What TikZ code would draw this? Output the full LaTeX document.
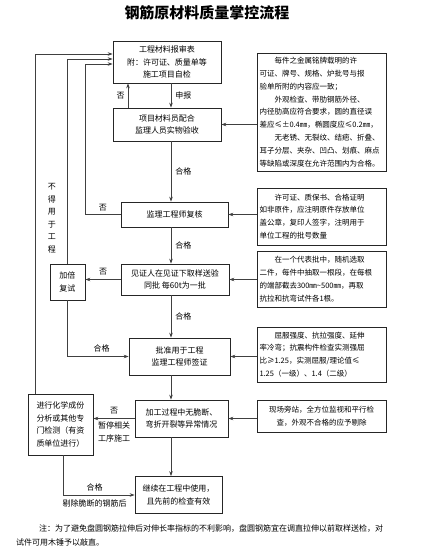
\documentclass[tikz,border=0pt]{standalone}
\usepackage{fontspec}
\setmainfont{Noto Sans CJK SC}
\usetikzlibrary{arrows.meta,calc}

\begin{document}
\begin{tikzpicture}[x=1pt,y=-1pt,
  stage/.style={rectangle,draw=black!85,line width=0.7pt,inner sep=1pt,align=center,
                font=\fontsize{8}{12.5}\selectfont},
  memo/.style={rectangle,draw=black!85,line width=0.7pt,inner sep=2pt,minimum width=129pt,
               text width=124pt,align=left,font=\fontsize{7.5}{12.8}\selectfont},
  lbl/.style={font=\fontsize{8}{12.5}\selectfont,inner sep=1pt},
  arr/.style={-{Stealth[length=5pt,width=3.5pt]},line width=0.6pt,draw=black!75}
]
  \useasboundingbox (0,0) rectangle (429,550);
  \node[lbl,font=\fontsize{15}{17}\selectfont\bfseries] (title) at (207,13) {钢筋原材料质量掌控流程};

  % main column
  \node[stage,minimum width=108pt,minimum height=42pt](apply)  at (167,62)     {工程材料报审表\\附：许可证、质量单等\\施工项目自检};
  \node[stage,minimum width=108pt,minimum height=33pt](accept) at (167,124.5)  {项目材料员配合\\监理人员实物验收};
  \node[stage,minimum width=107pt,minimum height=25pt](review) at (174.5,214.5){监理工程师复核};
  \node[stage,minimum width=108pt,minimum height=31pt](sample) at (175,279.5)  {见证人在见证下取样送验\\同批 每60t为一批};
  \node[stage,minimum width=101pt,minimum height=37pt](approve)at (179.5,356.5){批准用于工程\\监理工程师签证};
  \node[stage,minimum width=93pt,minimum height=37pt] (process)at (181.5,418.5){加工过程中无脆断、\\弯折开裂等异常情况};
  \node[stage,minimum width=87pt,minimum height=37pt] (useon)  at (178.5,495)  {继续在工程中使用，\\且先前的检查有效};

  % left side
  \node[stage,minimum width=35pt,minimum height=36pt](retest) at (67.5,282)  {加倍\\复试};
  \node[stage,minimum width=65pt,minimum height=61pt](chem)   at (60.5,424.5){进行化学成份\\分析或其他专\\门检测（有资\\质单位进行）};
  \node[lbl,align=center](ban) at (52,218) {不\\得\\用\\于\\工\\程};

  % right side notes
  \node[memo,minimum height=118pt](note1) at (321.5,112)
    {\hspace*{2em}每件之金属铭牌载明的许\\可证、牌号、规格、炉批号与报\\验单所附的内容应一致；\\
     \hspace*{2em}外观检查、带肋钢筋外径、\\内径肋高应符合要求，圆的直径误\\差应≤±0.4㎜，椭圆度应≤0.2㎜，\\
     \hspace*{2em}无老锈、无裂纹、结疤、折叠、\\耳子分层、夹杂、凹凸、划痕、麻点\\等缺陷或深度在允许范围内为合格。};
  \node[memo,minimum height=57pt](note2) at (321.5,216.5)
    {\hspace*{2em}许可证、质保书、合格证明\\如非原件，应注明原件存放单位\\盖公章，复印人签字，注明用于\\单位工程的批号数量};
  \node[memo,minimum height=56pt](note3) at (321.5,279)
    {\hspace*{2em}在一个代表批中，随机选取\\二件，每件中抽取一根段，在每根\\的端部截去300㎜\textasciitilde500㎜，再取\\抗拉和抗弯试件各1根。};
  \node[memo,minimum height=55pt](note4) at (321.5,354.5)
    {\hspace*{2em}屈服强度、抗拉强度、延伸\\率冷弯；抗震构件检查实测强屈\\比≥1.25，实测屈服/理论值≤\\1.25（一级）、1.4（二级）};
  \node[memo,minimum height=32pt,align=center](note5) at (321.5,416)
    {现场旁站，全方位监视和平行检\\查，外观不合格的应予剔除};

  \node[lbl,anchor=north west,align=left,font=\fontsize{8}{14}\selectfont](remark) at (15,523)
    {\hspace*{23pt}注：为了避免盘圆钢筋拉伸后对伸长率指标的不利影响，盘圆钢筋宜在调直拉伸以前取样送检，对\\试件可用木锤予以敲直。};

  \coordinate (spine) at (171,0);
  \coordinate (nox) at (128,0);
  \coordinate (cx1) at (35,54);
  \coordinate (rty) at (0,59);
  \coordinate (cx3) at (85,64);
  \coordinate (cx2) at (63,0);

  % main flow
  \draw[arr](apply.south -| spine)--node[lbl,right=3pt]{申报}(accept.north -| spine);
  \draw[arr](accept.south -| spine)--node[lbl,right=3pt]{合格}(review.north -| spine);
  \draw[arr](review.south -| spine)--node[lbl,right=3pt]{合格}(sample.north -| spine);
  \draw[arr](sample.south -| spine)--node[lbl,right=3pt]{合格}(approve.north -| spine);
  \draw[arr](approve.south -| spine)--(process.north -| spine);
  \draw[arr](process.south -| spine)--(useon.north -| spine);

  % notes into the column
  \draw[arr](note1.west |- accept.east)--(accept.east);
  \draw[arr](note2.west |- review.east)--(review.east);
  \draw[arr](note3.west |- sample.east)--(sample.east);
  \draw[arr](note4.west |- approve.east)--(approve.east);
  \draw[arr](note5.west |- process.east)--(process.east);

  % loop-backs to the application
  \draw[arr](accept.north -| nox)--node[lbl,left=2pt]{否}(apply.south -| nox);
  \draw[arr](review.west)-|node[lbl,pos=0.25,above=2pt]{否}(cx3)--(apply.west |- cx3);
  \draw[arr](retest.north)|-(apply.west |- rty);
  \draw[arr](chem.north -| cx1)|-(apply.west |- cx1);

  % retest and inspection branches
  \draw[arr](sample.west)--node[lbl,above=3pt]{否}(sample.west -| retest.east);
  \draw[arr](retest.south)|-node[lbl,pos=0.78,above=3pt]{合格}(approve.west);
  \draw[arr](process.west)--node[lbl,above=3pt]{否}
      node[lbl,below=2pt,align=center]{暂停相关\\工序施工}(process.west -| chem.east);
  \draw[arr](chem.south -| cx2)|-node[lbl,pos=0.72,above=3pt]{合格}
      node[lbl,pos=0.72,below=3pt]{剔除脆断的钢筋后}(useon.west);
\end{tikzpicture}
\end{document}
